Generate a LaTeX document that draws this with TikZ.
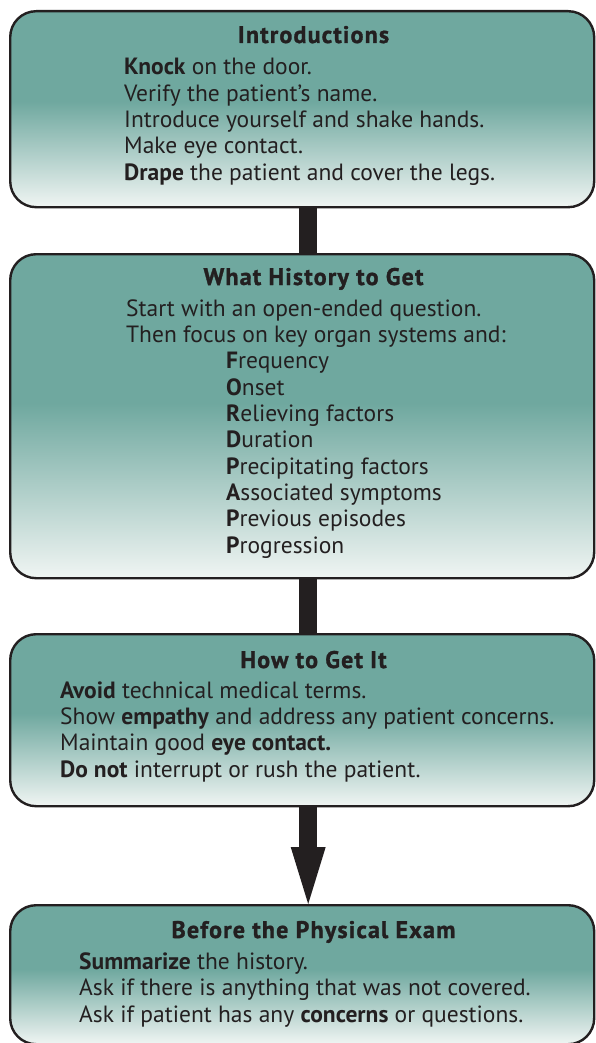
\documentclass[tikz,border=0pt]{standalone}
\usepackage{fontspec}
\setmainfont{PT Sans}
\newfontfamily\ttlfont[UprightFont={* Bold}, FakeBold=1.3, LetterSpace=5]{PT Sans}
\usetikzlibrary{arrows.meta,backgrounds}
\definecolor{teal1}{HTML}{6FA89F}
\definecolor{pale}{HTML}{F0F5F3}
\definecolor{ink}{HTML}{231F20}
\pgfdeclareverticalshading{boxshade}{100bp}{color(0bp)=(pale);color(25bp)=(pale);color(52bp)=(teal1);color(100bp)=(teal1)}
\begin{document}
\begin{tikzpicture}[x=1pt,y=-1pt,
  box/.style={draw=ink, line width=2.4pt, rounded corners=26pt, shading=boxshade, minimum width=584pt, inner sep=0pt, anchor=north west},
  ttl/.style={font=\ttlfont\fontsize{24}{26}\selectfont, text=ink, anchor=base, inner sep=0pt},
  body/.style={font=\fontsize{23.5}{26.3}\selectfont, text=ink, align=left, anchor=base west, inner sep=0pt},
  bar/.style={draw=ink, line width=18pt}]
\useasboundingbox (0,0) rectangle (596,1043);
\node[box, minimum height=196pt] (b1) at (9,10) {};
\node[box, minimum height=324pt] (b2) at (9,253) {};
\node[box, minimum height=172pt] (b3) at (9,633) {};
\node[box, minimum height=139pt] (b4) at (9,904) {};
\begin{pgfonlayer}{background}
\draw[bar] ([xshift=6pt]b1.south) -- ([xshift=6pt]b2.north);
\draw[bar] ([xshift=6pt]b2.south) -- ([xshift=6pt]b3.north);
\end{pgfonlayer}
\draw[bar, -{Triangle[width=35pt,length=57pt,line width=0pt]}] ([xshift=6pt]b3.south) -- ([xshift=6pt]b4.north);
\node[ttl] (t1) at (313.5,43) {Introductions};
\node[body] (x1) at (124,180) {\textbf{Knock} on the door.\\Verify the patient’s name.\\Introduce yourself and shake hands.\\Make eye contact.\\\textbf{Drape} the patient and cover the legs.};
\node[ttl] (t2) at (313.5,285) {What History to Get};
\node[body] (x2) at (126,553) {Start with an open-ended question.\\Then focus on key organ systems and:\\\hspace*{100pt}\textbf{F}requency\\\hspace*{100pt}\textbf{O}nset\\\hspace*{100pt}\textbf{R}elieving factors\\\hspace*{100pt}\textbf{D}uration\\\hspace*{100pt}\textbf{P}recipitating factors\\\hspace*{100pt}\textbf{A}ssociated symptoms\\\hspace*{100pt}\textbf{P}revious episodes\\\hspace*{100pt}\textbf{P}rogression};
\node[ttl] (t3) at (313.5,668) {How to Get It};
\node[body] (x3) at (60,777) {\textbf{Avoid} technical medical terms.\\Show \textbf{empathy} and address any patient concerns.\\Maintain good \textbf{eye contact.}\\\textbf{Do not} interrupt or rush the patient.};
\node[ttl] (t4) at (313.5,938) {Before the Physical Exam};
\node[body] (x4) at (79,1022) {\textbf{Summarize} the history.\\Ask if there is anything that was not covered.\\Ask if patient has any \textbf{concerns} or questions.};
\end{tikzpicture}
\end{document}
